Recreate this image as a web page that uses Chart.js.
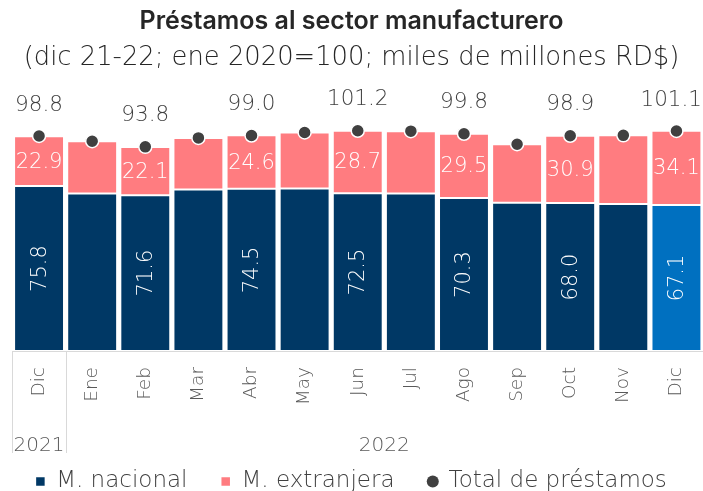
<!DOCTYPE html>
<html>
<head>
<meta charset="utf-8">
<script src="https://cdn.jsdelivr.net/npm/chart.js@4.4.0/dist/chart.umd.min.js"></script>
<style>
html,body{margin:0;padding:0;background:#fff;}
#wrap{width:703px;height:491px;}
</style>
</head>
<body>
<div id="wrap"><canvas id="c"></canvas></div>
<script>
const months = ['Dic','Ene','Feb','Mar','Abr','May','Jun','Jul','Ago','Sep','Oct','Nov','Dic'];
const years = ['2021','2022'];
const nacional =   [75.8, 72.4, 71.6, 74.2, 74.5, 74.7, 72.5, 72.4, 70.3, 68.1, 68.0, 67.5, 67.1];
const extranjera = [22.9, 24.0, 22.1, 23.7, 24.6, 25.7, 28.7, 28.6, 29.5, 26.9, 30.9, 31.6, 34.1];
const total =      [98.8, 96.4, 93.8, 97.9, 99.0, 100.4, 101.2, 101.0, 99.8, 95.0, 98.9, 99.1, 101.1];
const seriesNames = ['M. nacional','M. extranjera','Total de préstamos'];

const FONT = '"DejaVu Sans", sans-serif';
const TFONT = 'Inter, "DejaVu Sans", sans-serif';
const W = '200';
const NAVY = '#003865', PINK = '#FF7C80', LBLUE = '#0070C0', DOT = '#404040';

const legendTweak = {
  id: 'legendTweak',
  afterInit(chart) {
    const lg = chart.legend;
    if (!lg || lg._tweaked) return;
    const fitRows = lg._fitRows;
    lg._fitRows = function (...args) {
      const mw = this.maxWidth;
      this.maxWidth = 5000;
      const r = fitRows.apply(this, args);
      this.maxWidth = mw;
      return r;
    };
    const draw = lg.draw;
    lg.draw = function (...args) {
      this.ctx.save();
      this.ctx.translate(0, -16);
      draw.apply(this, args);
      this.ctx.restore();
    };
    lg._tweaked = true;
  }
};

const labelPlugin = {
  id: 'labels',
  afterDatasetsDraw(chart) {
    const ctx = chart.ctx;
    ctx.save();
    ctx.textAlign = 'center';
    ctx.textBaseline = 'middle';
    const m0 = chart.getDatasetMeta(0), m1 = chart.getDatasetMeta(1), m2 = chart.getDatasetMeta(2);
    for (let i = 0; i < months.length; i += 2) {
      ctx.font = W + ' 21px ' + FONT;
      const b0 = m0.data[i];
      ctx.fillStyle = '#fff';
      ctx.save();
      ctx.translate(b0.x, (b0.y + b0.base) / 2);
      ctx.rotate(-Math.PI / 2);
      ctx.fillText(nacional[i].toFixed(1), 0, 1);
      ctx.restore();
      const b1 = m1.data[i];
      ctx.fillText(extranjera[i].toFixed(1), b1.x, (b1.y + b1.base) / 2 + 1);
      const p = m2.data[i];
      ctx.font = W + ' 21.5px ' + FONT;
      ctx.fillStyle = DOT;
      const txt = total[i].toFixed(1);
      const w = ctx.measureText(txt).width;
      const tx = Math.min(p.x, chart.width - w / 2 - 1);
      ctx.fillText(txt, tx, p.y - 31);
    }
    const x = chart.scales.x, x2 = chart.scales.x2;
    const half = (x.getPixelForValue(1) - x.getPixelForValue(0)) / 2;
    ctx.strokeStyle = '#D9D9D9';
    ctx.lineWidth = 1;
    const seps = [x.getPixelForValue(0) - half, x.getPixelForValue(1) - half];
    seps.forEach(px => {
      ctx.beginPath();
      ctx.moveTo(Math.round(px) + 0.5, x.top);
      ctx.lineTo(Math.round(px) + 0.5, x2.bottom + 1);
      ctx.stroke();
    });
    ctx.restore();
  }
};

new Chart(document.getElementById('c'), {
  data: {
    labels: months,
    datasets: [
      { type: 'bar', label: seriesNames[0], data: nacional,
        backgroundColor: nacional.map((v, i) => i === months.length - 1 ? LBLUE : NAVY),
        borderColor: '#fff', borderWidth: 1, borderSkipped: false,
        stack: 's', order: 2, barPercentage: 0.94, categoryPercentage: 1 },
      { type: 'bar', label: seriesNames[1], data: extranjera,
        backgroundColor: PINK, borderColor: '#fff', borderWidth: 1, borderSkipped: false,
        stack: 's', order: 2, barPercentage: 0.94, categoryPercentage: 1 },
      { type: 'line', label: seriesNames[2], data: total, showLine: false,
        pointRadius: 6.5, pointBackgroundColor: DOT, pointBorderColor: '#fff', pointBorderWidth: 1.5,
        backgroundColor: DOT, borderColor: DOT, stack: 't', order: 0 }
    ]
  },
  options: {
    responsive: true, maintainAspectRatio: false, animation: false,
    layout: { autoPadding: false, padding: { left: 0, right: 0, top: 0, bottom: -28 } },
    plugins: {
      title: { display: true, text: 'Préstamos al sector manufacturero', color: '#262626',
        font: { family: TFONT, size: 25, weight: '600', lineHeight: 1.2 }, padding: { top: 6, bottom: 7 } },
      subtitle: { display: true, text: '(dic 21-22; ene 2020=100; miles de millones RD$)', color: '#262626',
        font: { family: FONT, size: 25.8, weight: W, lineHeight: 1.2 }, padding: { top: 0, bottom: 10 } },
      legend: { position: 'bottom',
        labels: { usePointStyle: true, boxWidth: 8.5, boxHeight: 8.5, padding: 34, color: '#404040',
          font: { family: FONT, size: 23, weight: W },
          sort: (a, b) => a.datasetIndex - b.datasetIndex,
          generateLabels(chart) {
            const items = Chart.defaults.plugins.legend.labels.generateLabels(chart);
            items.forEach((it) => {
              const i = it.datasetIndex;
              it.pointStyle = i < 2 ? 'rect' : 'circle';
              it.fillStyle = i === 0 ? NAVY : (i === 1 ? PINK : DOT);
              it.strokeStyle = it.fillStyle;
              it.lineWidth = 0;
            });
            return items;
          } } },
      tooltip: { enabled: false }
    },
    scales: {
      y: { display: true, stacked: true, min: 0, max: 122.7,
        grid: { display: false }, border: { display: false }, ticks: { display: false },
        afterFit(scale) { scale.width = 12.5; } },
      x: { stacked: true, offset: true,
        grid: { display: false },
        border: { display: true, color: '#D9D9D9', width: 1 },
        afterFit(scale) { scale.height = 60; scale.paddingLeft = 0; scale.paddingRight = 0; },
        ticks: { color: '#595959', font: { family: FONT, size: 18.5, weight: W },
          minRotation: 90, maxRotation: 90, padding: 8, autoSkip: false } },
      x2: { type: 'linear', position: 'bottom', min: -0.5, max: 12.5, offset: false,
        grid: { display: false }, border: { display: false },
        afterFit(scale) { scale.height = 41; scale.paddingLeft = 0; scale.paddingRight = 0; },
        afterBuildTicks(scale) { scale.ticks = [{ value: 0 }, { value: 6.5 }]; },
        ticks: { color: '#595959', font: { family: FONT, size: 20, weight: W }, padding: 15,
          autoSkip: false, maxRotation: 0,
          callback(v) { return v === 0 ? years[0] : (v === 6.5 ? years[1] : ''); } } }
    }
  },
  plugins: [legendTweak, labelPlugin]
});
</script>
</body>
</html>
